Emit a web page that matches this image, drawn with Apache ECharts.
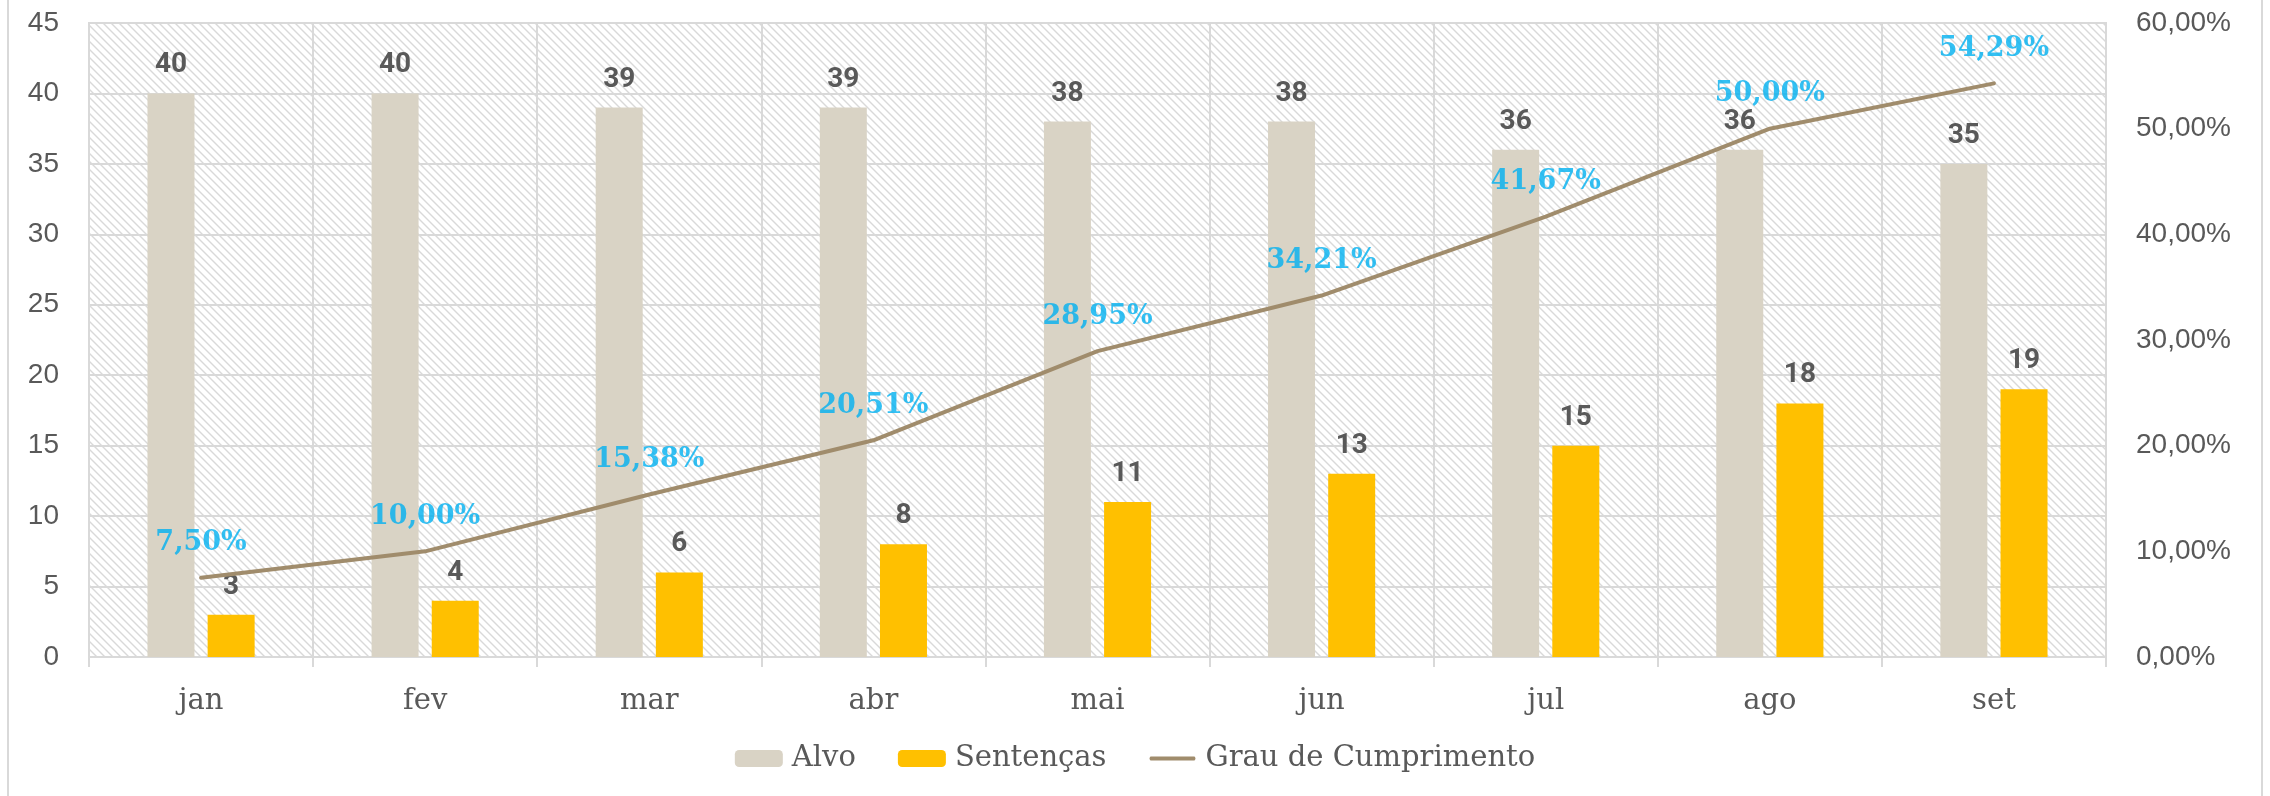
<!DOCTYPE html>
<html>
<head>
<meta charset="utf-8">
<script src="https://cdn.jsdelivr.net/npm/echarts@6/dist/echarts.min.js"></script>
<style>
  html, body { margin: 0; padding: 0; background: #fff; }
  #chart { width: 2270px; height: 796px; }
</style>
</head>
<body>
<div id="chart"></div>
<script>
// dados do grafico
var meses = ['jan', 'fev', 'mar', 'abr', 'mai', 'jun', 'jul', 'ago', 'set'];
var alvo = [40, 40, 39, 39, 38, 38, 36, 36, 35];
var sentencas = [3, 4, 6, 8, 11, 13, 15, 18, 19];
var grauCumprimento = [7.50, 10.00, 15.38, 20.51, 28.95, 34.21, 41.67, 50.00, 54.29];
var ticksEsq = [0, 45, 5];   // min, max, intervalo
var ticksDir = [0, 60, 10];

var cinza = '#595959';
var linhaGrade = '#D9D9D9';
var corLinha = '#A08C6C';

function formatPct(v) { //formata percentual no padrao pt-BR
    return v.toFixed(2).replace('.', ',') + '%';
}

function criarHachura() { // fundo hachurado da area do grafico
    var c = document.createElement('canvas');
    c.width = 8;
    c.height = 8;
    var ctx = c.getContext('2d');
    ctx.fillStyle = '#ffffff';
    ctx.fillRect(0, 0, 8, 8);
    ctx.strokeStyle = '#D9D9D9';
    ctx.lineWidth = 1.4;
    [-8, 0, 8].forEach(function (o) {
        ctx.beginPath();
        ctx.moveTo(o - 1, -1);
        ctx.lineTo(o + 9, 9);
        ctx.stroke();
    });
    return c;
}

var myChart = echarts.init(document.getElementById('chart'), null, { width: 2270, height: 796 });

var option = {
    animation: false,
    backgroundColor: '#ffffff',
    graphic: [{
        type: 'rect',
        shape: { x: 8, y: -10, width: 2254, height: 820 },
        style: { fill: 'none', stroke: linhaGrade, lineWidth: 2 },
        silent: true
    }],
    grid: {
        left: 89, right: 164, top: 23, bottom: 139,
        show: true,
        backgroundColor: { image: criarHachura(), repeat: 'repeat' },
        borderColor: linhaGrade,
        borderWidth: 2
    },
    legend: {
        bottom: 18,
        left: 'center',
        itemWidth: 48,
        itemHeight: 17,
        itemGap: 42,
        textStyle: { color: cinza, fontFamily: 'DejaVu Serif', fontSize: 29, padding: [0, 0, 0, 4] },
        data: [
            'Alvo',
            'Sentenças',
            {
                name: 'Grau de Cumprimento',
                icon: 'path://M0,0 L0.01,0 Z M2,6.5 L46,6.5 Q48,8.5 46,10.5 L2,10.5 Q0,8.5 2,6.5 Z M48,17 L47.99,17 Z'
            }
        ]
    },
    xAxis: {
        type: 'category',
        data: meses,
        axisLine: { lineStyle: { color: linhaGrade, width: 2 } },
        axisTick: { show: true, length: 10, lineStyle: { color: linhaGrade, width: 2 } },
        splitLine: { show: true, lineStyle: { color: linhaGrade, width: 2 } },
        axisLabel: { color: cinza, fontFamily: 'DejaVu Serif', fontSize: 29, margin: 30 }
    },
    yAxis: [{
        type: 'value',
        min: ticksEsq[0], max: ticksEsq[1], interval: ticksEsq[2],
        axisLine: { show: false },
        axisTick: { show: false },
        splitLine: { lineStyle: { color: linhaGrade, width: 2 } },
        axisLabel: { color: cinza, fontFamily: 'Liberation Sans', fontSize: 28, margin: 30 }
    }, {
        type: 'value',
        min: ticksDir[0], max: ticksDir[1], interval: ticksDir[2],
        axisLine: { show: false },
        axisTick: { show: false },
        splitLine: { show: false },
        axisLabel: {
            color: cinza, fontFamily: 'Liberation Sans', fontSize: 28, margin: 30,
            formatter: function (v) { return formatPct(v); }
        }
    }],
    series: [{
        name: 'Alvo',
        type: 'bar',
        data: alvo,
        barWidth: 47,
        barGap: '28%',
        itemStyle: { color: '#D9D3C5' },
        label: {
            show: true, position: 'top', distance: 14,
            color: cinza, fontFamily: 'Roboto', fontWeight: 'bold', fontSize: 28
        }
    }, {
        name: 'Sentenças',
        type: 'bar',
        data: sentencas,
        barWidth: 47,
        itemStyle: { color: '#FFC000' },
        label: {
            show: true, position: 'top', distance: 14,
            color: cinza, fontFamily: 'Roboto', fontWeight: 'bold', fontSize: 28
        }
    }, {
        name: 'Grau de Cumprimento',
        type: 'line',
        yAxisIndex: 1,
        data: grauCumprimento,
        symbol: 'none',
        z: 5,
        lineStyle: { color: corLinha, width: 4, cap: 'round' },
        itemStyle: { color: corLinha }
    }, {
        // rotulos dos percentuais (sem marcador)
        name: 'rotulosGrau',
        type: 'scatter',
        yAxisIndex: 1,
        data: grauCumprimento,
        symbolSize: 0,
        z: 6,
        itemStyle: { color: 'rgba(0,0,0,0)' },
        label: {
            show: true, position: 'top', distance: 21,
            color: '#00B0F0', fontFamily: 'DejaVu Serif', fontWeight: 'bold', fontSize: 27,
            formatter: function (p) { return formatPct(p.value); }
        }
    }]
};

myChart.setOption(option);
</script>
</body>
</html>
